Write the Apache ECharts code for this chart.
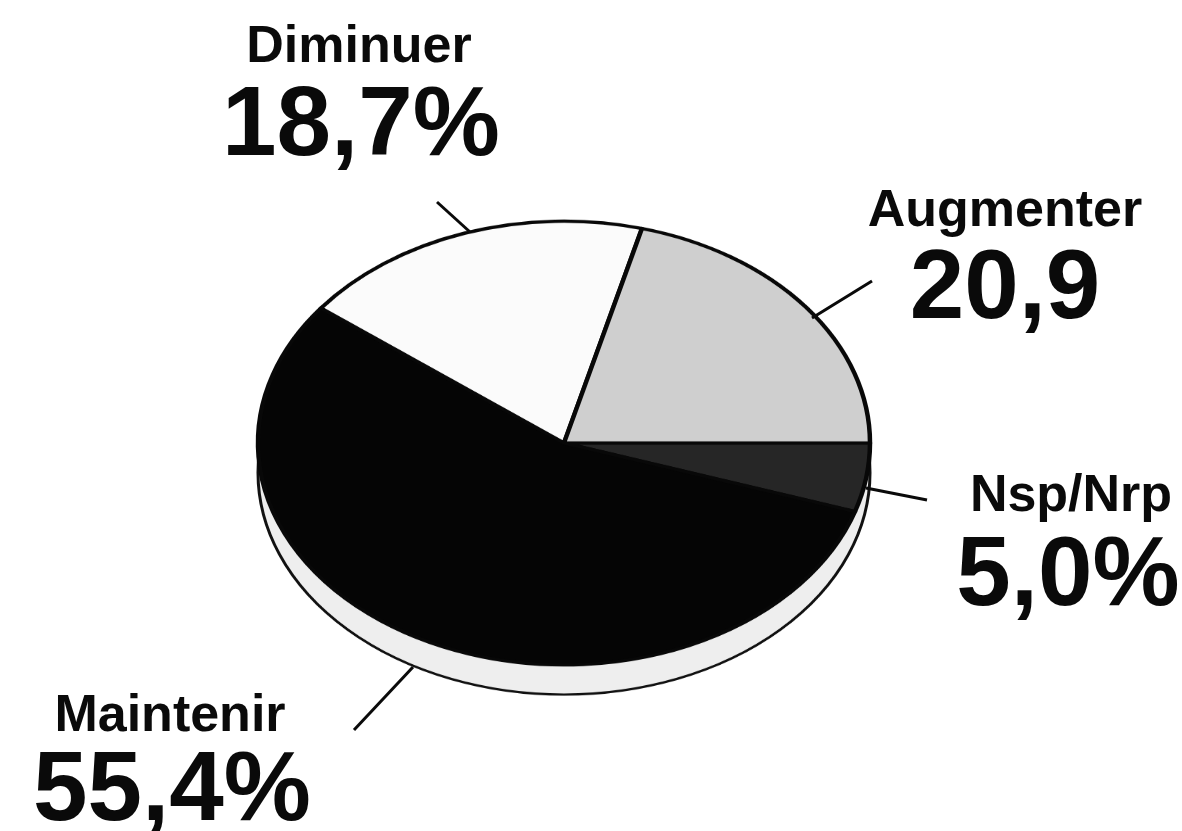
<!DOCTYPE html>
<html>
<head>
<meta charset="utf-8">
<script src="https://cdn.jsdelivr.net/npm/echarts@6/dist/echarts.min.js"></script>
<style>
    html, body { margin: 0; padding: 0; background: #fff; overflow: hidden; }
    #wrap { position: relative; width: 1182px; height: 831px; }
    /* pie is drawn round, then squashed to look like a tilted disc */
    #pieBox { position: absolute; left: 0; top: 0; width: 1182px; height: 1000px;
              transform: scaleY(0.725); transform-origin: 0 0; }
    #labelBox { position: absolute; left: 0; top: 0; width: 1182px; height: 831px; }
</style>
</head>
<body>
<div id="wrap">
    <div id="pieBox"></div>
    <div id="labelBox"></div>
</div>
<script>
// réponses (ordre de dessin : sens horaire depuis 3 h)
let categories = ['Nsp/Nrp', 'Maintenir', 'Diminuer', 'Augmenter'];
let values = [5.0, 55.4, 18.7, 20.9];
let valueLabels = ['5,0%', '55,4%', '18,7%', '20,9'];
let sliceColors = ['#262626', '#050505', '#fbfbfb', '#cfcfcf'];

let pieDom = document.getElementById('pieBox');
let pieChart = echarts.init(pieDom, null, {renderer: 'canvas'});

let pieData = categories.map(function (name, i) {
    return {name: name, value: values[i], itemStyle: {color: sliceColors[i]}};
});
let total = values.reduce(function (a, b) { return a + b; }, 0);

let pieOption = {
    animation: false,
    series: [
        {
            // tranche du disque (épaisseur)
            name: 'bord',
            type: 'pie',
            silent: true,
            center: [564, 652],
            radius: 306,
            z: 1,
            label: {show: false},
            labelLine: {show: false},
            itemStyle: {color: '#eeeeee', borderColor: '#111', borderWidth: 3},
            data: [{name: 'bord', value: total}]
        },
        {
            name: 'réponses',
            type: 'pie',
            silent: true,
            center: [564, 611],
            radius: 306,
            startAngle: 0,
            clockwise: true,
            z: 2,
            label: {show: false},
            labelLine: {show: false},
            itemStyle: {borderColor: '#080808', borderWidth: 4.5},
            data: pieData
        }
    ]
};
pieChart.setOption(pieOption, true);

// étiquettes et traits de rappel (non déformés)
let labelDom = document.getElementById('labelBox');
let labelChart = echarts.init(labelDom);

let namePos = [[1071, 512], [170, 732], [359, 63], [1005, 227]];
let valuePos = [[1068, 607], [172, 822], [361, 157], [1005, 320]];
let leaderLines = [
    [[866, 488], [927, 500]],
    [[413, 667], [354, 730]],
    [[470, 232], [437, 202]],
    [[812, 318], [872, 281]]
];

let graphics = [];
categories.forEach(function (name, i) {
    graphics.push({
        type: 'text',
        x: namePos[i][0],
        y: namePos[i][1] - 15,
        style: {
            text: name,
            font: 'bold 52px "Liberation Sans", Arial, sans-serif',
            fill: '#0a0a0a',
            align: 'center',
            verticalAlign: 'middle'
        }
    });
    graphics.push({
        type: 'text',
        x: valuePos[i][0],
        y: valuePos[i][1] - 29,
        style: {
            text: valueLabels[i],
            font: 'bold 98px "Liberation Sans", Arial, sans-serif',
            fill: '#0a0a0a',
            align: 'center',
            verticalAlign: 'middle'
        }
    });
    graphics.push({
        type: 'line',
        shape: {
            x1: leaderLines[i][0][0], y1: leaderLines[i][0][1],
            x2: leaderLines[i][1][0], y2: leaderLines[i][1][1]
        },
        style: {stroke: '#0a0a0a', lineWidth: 3}
    });
});

labelChart.setOption({
    animation: false,
    graphic: graphics
}, true);

window.onresize = function () {
    pieChart.resize();
    labelChart.resize();
};
</script>
</body>
</html>
